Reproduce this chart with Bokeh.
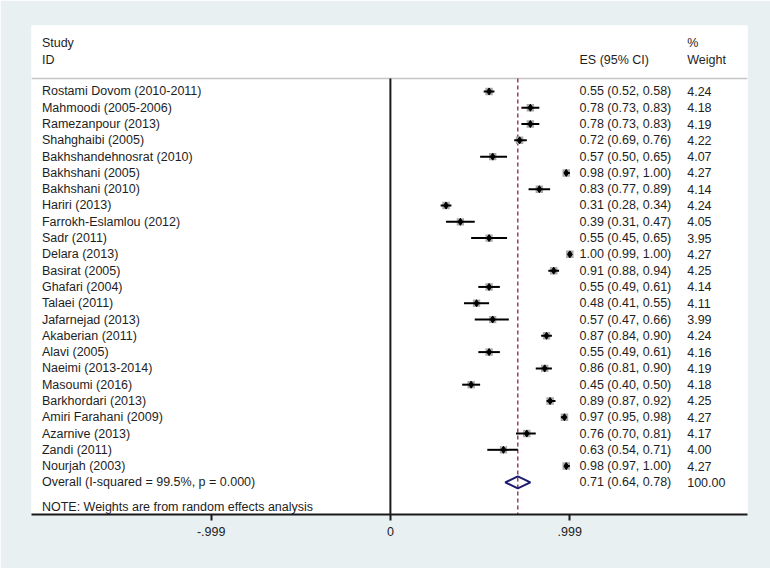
from bokeh.plotting import figure
from bokeh.models import Range1d, FixedTicker, ColumnDataSource
from bokeh.core.properties import value
from bokeh.embed import file_html
from bokeh.resources import INLINE

studies = ["Rostami Dovom (2010-2011)", "Mahmoodi (2005-2006)", "Ramezanpour (2013)",
           "Shahghaibi (2005)", "Bakhshandehnosrat (2010)", "Bakhshani (2005)",
           "Bakhshani (2010)", "Hariri (2013)", "Farrokh-Eslamlou (2012)", "Sadr (2011)",
           "Delara (2013)", "Basirat (2005)", "Ghafari (2004)", "Talaei (2011)",
           "Jafarnejad (2013)", "Akaberian (2011)", "Alavi (2005)", "Naeimi (2013-2014)",
           "Masoumi (2016)", "Barkhordari (2013)", "Amiri Farahani (2009)",
           "Azarnive (2013)", "Zandi (2011)", "Nourjah (2003)"]
es = [0.55, 0.78, 0.78, 0.72, 0.57, 0.98, 0.83, 0.31, 0.39, 0.55, 1.00, 0.91,
      0.55, 0.48, 0.57, 0.87, 0.55, 0.86, 0.45, 0.89, 0.97, 0.76, 0.63, 0.98]
lo = [0.52, 0.73, 0.73, 0.69, 0.50, 0.97, 0.77, 0.28, 0.31, 0.45, 0.99, 0.88,
      0.49, 0.41, 0.47, 0.84, 0.49, 0.81, 0.40, 0.87, 0.95, 0.70, 0.54, 0.97]
hi = [0.58, 0.83, 0.83, 0.76, 0.65, 1.00, 0.89, 0.34, 0.47, 0.65, 1.00, 0.94,
      0.61, 0.55, 0.66, 0.90, 0.61, 0.90, 0.50, 0.92, 0.98, 0.81, 0.71, 1.00]
weights = [4.24, 4.18, 4.19, 4.22, 4.07, 4.27, 4.14, 4.24, 4.05, 3.95, 4.27, 4.25,
           4.14, 4.11, 3.99, 4.24, 4.16, 4.19, 4.18, 4.25, 4.27, 4.17, 4.00, 4.27]
overall_es, overall_lo, overall_hi = 0.71, 0.64, 0.78
overall_label = "Overall  (I-squared = 99.5%, p = 0.000)"
note = "NOTE: Weights are from random effects analysis"
tick_values = [-0.999, 0, 0.999]
tick_labels = ["-.999", "0", ".999"]

FONT = value("Liberation Sans")
FS = "12.5px"
BG = "#e9f0f2"

n = len(studies)
rows = list(range(n))
src = ColumnDataSource(dict(
    y=rows, es=es, lo=lo, hi=hi, study=studies,
    size=[7.5 * (w / 4.27) ** 0.5 for w in weights],
    estxt=["%.2f (%.2f, %.2f)" % (e, a, b) for e, a, b in zip(es, lo, hi)],
    wtxt=["%.2f" % w for w in weights],
))

p = figure(width=770, height=568, output_backend="svg", toolbar_location=None,
           x_range=Range1d(-2.0, 1.99), y_range=Range1d(25.97, -4.05),
           min_border_left=31, min_border_right=23, min_border_top=25, min_border_bottom=54)
p.background_fill_color = "white"
p.border_fill_color = BG
p.outline_line_color = None
p.grid.visible = False
p.yaxis.visible = False

ax = p.xaxis[0]
ax.ticker = FixedTicker(ticks=tick_values)
ax.major_label_overrides = {t: l for t, l in zip(tick_values, tick_labels)}
ax.axis_line_width = 2
ax.axis_line_color = "#1a1a1a"
ax.major_tick_line_width = 2
ax.major_tick_line_color = "#1a1a1a"
ax.major_tick_out = 6
ax.major_tick_in = 0
ax.minor_tick_line_color = None
ax.major_label_text_font = "Liberation Sans"
ax.major_label_text_font_size = FS
ax.major_label_text_color = "#222222"
ax.major_label_standoff = 6

# header separator line
p.segment(x0=[-2.0], x1=[1.99], y0=[-0.8], y1=[-0.8], line_color="#c4c4c4", line_width=1.5)
# null line
p.segment(x0=[0], x1=[0], y0=[-0.8], y1=[25.97], line_color="#1a1a1a", line_width=2)
# overall dashed line
p.segment(x0=[overall_es], x1=[overall_es], y0=[-0.8], y1=[25.97],
          line_color="#8b2242", line_width=1.3, line_dash="4 3")

# study boxes, CIs, points
p.scatter(x="es", y="y", size="size", marker="square", source=src,
          fill_color="#a9a9a9", line_color=None)
p.segment(x0="lo", x1="hi", y0="y", y1="y", source=src, line_color="black", line_width=2)
p.scatter(x="es", y="y", size=7, marker="diamond", source=src,
          fill_color="black", line_color="black")

# overall diamond
oy = n
p.patch(x=[overall_lo, overall_es, overall_hi, overall_es],
        y=[oy, oy - 0.37, oy, oy + 0.37],
        fill_color="white", fill_alpha=0, line_color="#1c1c70", line_width=2)

tcol = "#1e1e1e"
p.text(x=-1.942, y="y", text="study", source=src, text_font=FONT,
       text_font_size=FS, text_baseline="middle", text_color=tcol)
p.text(x=1.054, y="y", text="estxt", source=src, text_font=FONT,
       text_font_size=FS, text_baseline="middle", text_color=tcol)
p.text(x=1.654, y="y", text="wtxt", source=src, text_font=FONT,
       text_font_size=FS, text_baseline="middle", text_color=tcol)

p.text(x=[-1.942, 1.054, 1.654], y=[oy, oy, oy],
       text=[overall_label, "%.2f (%.2f, %.2f)" % (overall_es, overall_lo, overall_hi), "100.00"],
       text_font=FONT, text_font_size=FS, text_baseline="middle", text_color=tcol)
p.text(x=[-1.942], y=[n + 1.5], text=[note], text_font=FONT, text_font_size=FS,
       text_baseline="middle", text_color=tcol)

p.text(x=[-1.942, -1.942, 1.054, 1.654, 1.654], y=[-2.95, -1.96, -1.96, -2.95, -1.96],
       text=["Study", "ID", "ES (95% CI)", "%", "Weight"], text_font=FONT,
       text_font_size=FS, text_baseline="middle", text_color=tcol)

html = file_html(p, INLINE)
html = html.replace("<body>", '<body style="background-color:%s;">' % BG, 1)
open("out.html", "w").write(html)
